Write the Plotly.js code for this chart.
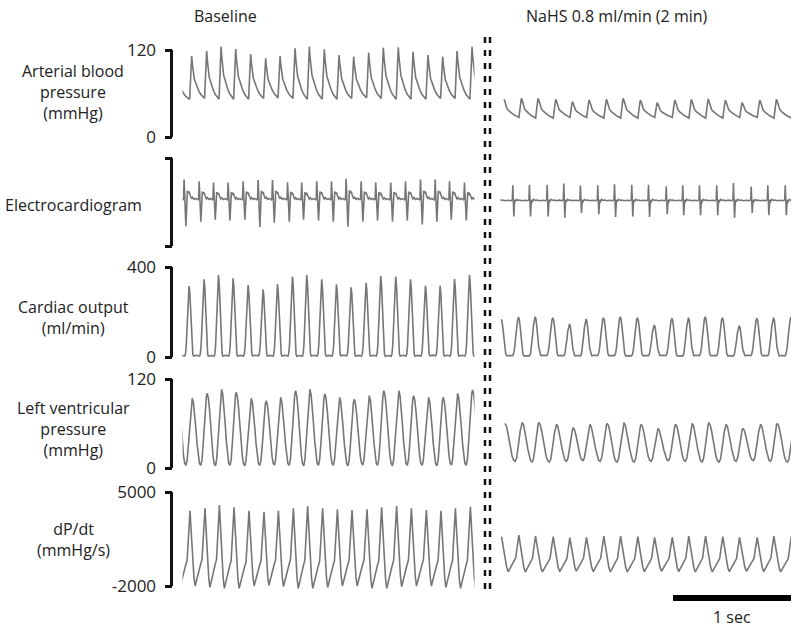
<!DOCTYPE html>
<html>
<head>
<meta charset="utf-8">
<script src="https://cdn.plot.ly/plotly-3.0.1.min.js"></script>
<style>html,body{margin:0;padding:0;background:#fff;}#chart{width:800px;height:632px;}</style>
</head>
<body>
<div id="chart"></div>
<script>
// ---------------- DATA ----------------
const conditions = ['Baseline', 'NaHS 0.8 ml/min (2 min)'];
const channelLabels = ['Arterial blood<br>pressure<br>(mmHg)', 'Electrocardiogram', 'Cardiac output<br>(ml/min)', 'Left ventricular<br>pressure<br>(mmHg)', 'dP/dt<br>(mmHg/s)'];
const tickValues = [[0, 120], [-1, 1], [0, 400], [0, 120], [-2000, 5000]];
const tickLabels = [['0', '120'], ['', ''], ['0', '400'], ['0', '120'], ['-2000', '5000']];
const scaleBarSeconds = 1;
const scaleBarLabel = '1 sec';

// beat times (s) – baseline (aortic pressure peaks), NaHS (ECG spikes)
const beatsBase = [-0.042, 0.082, 0.209, 0.331, 0.455, 0.582, 0.709, 0.831, 0.958, 1.079, 1.206, 1.331, 1.455, 1.582, 1.706, 1.833, 1.958, 2.085, 2.209, 2.331, 2.458];
const beatsNahs = [-0.034, 0.113, 0.254, 0.404, 0.545, 0.686, 0.833, 0.975, 1.121, 1.263, 1.413, 1.553, 1.695, 1.841, 1.983, 2.133, 2.274, 2.422];

// Arterial blood pressure (mmHg): systolic peaks / diastolic troughs
const abpBaseSys = [92, 111.7, 118.6, 124.6, 121.4, 114.5, 108.5, 111.7, 122.3, 124.6, 120.9, 113.1, 110.8, 116.3, 123.2, 123.7, 117.7, 113.1, 110.8, 118.6, 124.6];
const abpBaseDia = [52, 53, 52, 52, 52, 53, 54, 53, 52, 52, 52, 53, 54, 53, 52, 52, 52, 53, 53, 52, 52];
const abpNahsSys = [52, 53.4, 53.4, 52, 48.7, 51, 52, 53.4, 51, 47.3, 51, 52, 52.4, 51, 47.3, 51, 52, 52];
const abpNahsDia = [27, 26, 26, 27, 27, 26, 26, 26, 27, 27, 26, 26, 26, 27, 27, 26, 26, 26];

// ECG (arbitrary units): R (up) and S (down) deflections
const ecgBaseUp = [0.42, 0.46, 0.42, 0.39, 0.39, 0.42, 0.45, 0.45, 0.40, 0.39, 0.42, 0.42, 0.48, 0.42, 0.39, 0.39, 0.42, 0.46, 0.46, 0.42, 0.39];
const ecgBaseDown = [-0.5, -0.60, -0.50, -0.45, -0.47, -0.45, -0.62, -0.52, -0.50, -0.45, -0.47, -0.50, -0.61, -0.50, -0.47, -0.50, -0.47, -0.56, -0.50, -0.45, -0.47];
const ecgNahsUp = [0.36, 0.35, 0.36, 0.36, 0.39, 0.35, 0.35, 0.37, 0.36, 0.36, 0.33, 0.35, 0.35, 0.35, 0.40, 0.32, 0.35, 0.35];
const ecgNahsDown = [-0.35, -0.36, -0.36, -0.36, -0.39, -0.28, -0.31, -0.37, -0.36, -0.37, -0.31, -0.33, -0.33, -0.33, -0.39, -0.28, -0.33, -0.33];

// Cardiac output (ml/min): peaks / floor
const coBasePeak = [340, 315.6, 345, 364, 350, 320, 301, 323, 357, 364, 345, 323, 310, 330, 360, 357, 345, 317, 317, 347, 364];
const coBaseFloor = [4, 4, 3, 4, 4, 5, 4, 4, 3, 4, 4, 5, 4, 4, 3, 4, 4, 5, 4, 4, 4];
const coNahsPeak = [167.5, 176.4, 179, 174.7, 146.7, 168.9, 174.7, 179, 174.7, 142.2, 172, 174.7, 179, 174.7, 139, 172, 174.7, 176.4];
const coNahsFloor = [6, 5, 6, 6, 5, 6, 6, 5, 6, 6, 5, 6, 6, 5, 6, 6, 5, 6];

// Left ventricular pressure (mmHg)
const lvpBaseSys = [100, 94, 100.7, 106.1, 102.1, 94, 90.7, 95.3, 104.2, 106.1, 99.8, 95.3, 92.6, 97.5, 104.2, 104.2, 97.5, 95.3, 95.3, 100.7, 105.2];
const lvpBaseDia = [3.5, 3.5, 3, 3.5, 3, 3.5, 4, 3.5, 3, 3.5, 3.5, 3, 4, 3.5, 3, 3.5, 3.5, 3, 4, 3.5, 3];
const lvpNahsSys = [60.3, 61.6, 61.6, 58.9, 54.3, 58.9, 60.3, 61.1, 58.9, 53.5, 58.9, 60.3, 61.1, 58.9, 53.5, 58.9, 60.3, 60];
const lvpNahsDia = [9, 8, 8, 9, 10, 9, 8, 8, 9, 10, 9, 8, 8, 9, 10, 9, 8, 8];

// dP/dt (mmHg/s): max / min
const dpBaseMax = [3700, 3607, 3786, 4032, 3861, 3607, 3533, 3607, 3786, 3957, 3786, 3712, 3660, 3712, 3861, 3957, 3786, 3660, 3607, 3786, 3905];
const dpBaseMin = [-2000, -2000, -2100, -2180, -2180, -2000, -1950, -2050, -2180, -2180, -2100, -2000, -2000, -2180, -2180, -2050, -2000, -2000, -2100, -2180, -2100];
const dpNahsMax = [1671, 1798, 1723, 1671, 1597, 1626, 1723, 1723, 1671, 1626, 1626, 1723, 1723, 1671, 1626, 1626, 1723, 1671];
const dpNahsMin = [-930, -950, -950, -930, -900, -930, -950, -950, -930, -900, -930, -950, -950, -930, -900, -930, -950, -950];

// single-beat shapes: [phase within beat, normalised level]
const abpBaseShape = [[0, 1], [0.05, 0.8], [0.12, 0.55], [0.18, 0.45], [0.24, 0.4], [0.3, 0.33], [0.45, 0.2], [0.6, 0.1], [0.75, 0.04], [0.86, 0], [0.93, 0.5]];
const abpNahsShape = [[0, 1], [0.05, 0.9], [0.12, 0.62], [0.2, 0.45], [0.3, 0.35], [0.45, 0.22], [0.6, 0.13], [0.75, 0.06], [0.86, 0], [0.92, 0.45], [0.96, 0.85]];
const ecgBaseShape = [[-0.2, 0], [-0.16, 0.04], [-0.12, 1], [0, -1], [0.06, 0.3], [0.1, 0.45], [0.16, 0.33], [0.22, 0.4], [0.3, 0.2], [0.38, 0.05], [0.45, 0.12], [0.55, 0.02], [0.65, 0.07], [0.74, 0]];
const ecgNahsShape = [[-0.5, 0], [-0.3, 0.03], [-0.12, 0], [-0.06, 0.08], [-0.03, 1], [0.03, -1], [0.08, 0.05], [0.14, -0.05], [0.2, 0.08], [0.3, 0.02], [0.4, 0.04]];
const coBaseShape = [[0, 1], [0.05, 0.9], [0.1, 0.65], [0.15, 0.35], [0.2, 0.13], [0.25, 0.03], [0.3, 0], [0.5, 0.01], [0.7, 0], [0.75, 0.03], [0.8, 0.13], [0.85, 0.35], [0.9, 0.65], [0.95, 0.9]];
const coNahsShape = [[0, 1], [0.05, 0.93], [0.1, 0.75], [0.15, 0.48], [0.2, 0.22], [0.26, 0.06], [0.32, 0], [0.5, 0.01], [0.66, 0], [0.72, 0.06], [0.78, 0.22], [0.84, 0.5], [0.9, 0.78], [0.95, 0.94]];
const lvpBaseShape = [[0, 1], [0.08, 0.93], [0.16, 0.77], [0.24, 0.55], [0.32, 0.32], [0.4, 0.14], [0.48, 0.03], [0.57, 0], [0.65, 0.08], [0.73, 0.3], [0.8, 0.55], [0.87, 0.78], [0.94, 0.95]];
const lvpNahsShape = [[0, 1], [0.08, 0.93], [0.16, 0.77], [0.24, 0.56], [0.33, 0.33], [0.41, 0.14], [0.5, 0.03], [0.59, 0], [0.67, 0.08], [0.75, 0.3], [0.82, 0.56], [0.88, 0.78], [0.95, 0.95]];
const dpBaseShape = [[0, 1], [0.08, 0.72], [0.17, 0.4], [0.26, 0.12], [0.34, 0], [0.42, 0.07], [0.52, 0.15], [0.62, 0.22], [0.72, 0.29], [0.8, 0.34], [0.86, 0.52], [0.93, 0.78]];
const dpNahsShape = [[0, 1], [0.1, 0.7], [0.2, 0.4], [0.3, 0.12], [0.39, 0], [0.48, 0.08], [0.6, 0.2], [0.72, 0.3], [0.82, 0.38], [0.88, 0.6], [0.94, 0.85]];

// channel delays relative to the beat times (s)
const lagBase = {abp: 0, ecg: -0.049, co: -0.022, lvp: 0.005, dp: -0.014};
const lagNahs = {abp: 0.068, ecg: 0, co: 0.044, lvp: 0.076, dp: 0.047};

// ---------------- BUILD ----------------
function beatTrace(beats, lag, hi, lo, shape) {
  let trough = 0;
  shape.forEach((p, k) => { if (p[1] < shape[trough][1]) trough = k; });
  const x = [], y = [];
  for (let i = 0; i < beats.length; i++) {
    const T = i < beats.length - 1 ? beats[i + 1] - beats[i] : beats[i] - beats[i - 1];
    const hiNext = i < beats.length - 1 ? hi[i + 1] : hi[i];
    shape.forEach((p, k) => {
      const h = k <= trough ? hi[i] : hiNext;
      x.push(beats[i] + lag + p[0] * T);
      y.push(lo[i] + p[1] * (h - lo[i]));
    });
  }
  return {x, y};
}
function ecgTrace(beats, lag, up, down, base, shape) {
  const x = [], y = [];
  for (let i = 0; i < beats.length; i++) {
    const T = i < beats.length - 1 ? beats[i + 1] - beats[i] : beats[i] - beats[i - 1];
    shape.forEach(p => {
      x.push(beats[i] + lag + p[0] * T);
      y.push(base + (p[1] >= 0 ? p[1] * up[i] : -p[1] * down[i]));
    });
  }
  return {x, y};
}

const W = 800, H = 632;
// panel geometry: [value at top tick, pixel], [value at bottom tick, pixel], axis range
const panelGeom = [
  {top: [120, 50], bot: [0, 137], range: [-20, 140]},
  {top: [1, 158], bot: [-1, 246], range: [-1.3, 1.3]},
  {top: [400, 267], bot: [0, 357], range: [-40, 440]},
  {top: [120, 379], bot: [0, 468], range: [-15, 135]},
  {top: [5000, 492], bot: [-2000, 586], range: [-2600, 5600]}
];
function toPx(g, v) { return g.bot[1] - (v - g.bot[0]) * (g.bot[1] - g.top[1]) / (g.top[0] - g.bot[0]); }

const lineStyle = {color: '#767676', width: 1.6};
const series = [
  [beatTrace(beatsBase, lagBase.abp, abpBaseSys, abpBaseDia, abpBaseShape), beatTrace(beatsNahs, lagNahs.abp, abpNahsSys, abpNahsDia, abpNahsShape)],
  [ecgTrace(beatsBase, lagBase.ecg, ecgBaseUp, ecgBaseDown, 0.05, ecgBaseShape), ecgTrace(beatsNahs, lagNahs.ecg, ecgNahsUp, ecgNahsDown, 0.03, ecgNahsShape)],
  [beatTrace(beatsBase, lagBase.co, coBasePeak, coBaseFloor, coBaseShape), beatTrace(beatsNahs, lagNahs.co, coNahsPeak, coNahsFloor, coNahsShape)],
  [beatTrace(beatsBase, lagBase.lvp, lvpBaseSys, lvpBaseDia, lvpBaseShape), beatTrace(beatsNahs, lagNahs.lvp, lvpNahsSys, lvpNahsDia, lvpNahsShape)],
  [beatTrace(beatsBase, lagBase.dp, dpBaseMax, dpBaseMin, dpBaseShape), beatTrace(beatsNahs, lagNahs.dp, dpNahsMax, dpNahsMin, dpNahsShape)]
];

const FONT = 'Open Sans, sans-serif';
const TXT = '#222222';
const traces = [];
const layout = {
  width: W, height: H, margin: {l: 0, r: 0, t: 0, b: 0},
  paper_bgcolor: '#ffffff', plot_bgcolor: 'rgba(0,0,0,0)', showlegend: false,
  font: {family: FONT, color: TXT},
  xaxis: {domain: [182.5 / W, 474.5 / W], range: [0.5 / 118, 292.5 / 118], visible: false, fixedrange: true},
  xaxis2: {domain: [500.5 / W, 791 / W], range: [0.5 / 118, 291 / 118], visible: false, fixedrange: true, anchor: 'y'},
  shapes: [], annotations: []
};
const axisX = 171.5 / W;
const labelCentres = [92, 205, 317, 429, 539];
panelGeom.forEach((g, k) => {
  const yn = k === 0 ? 'y' : 'y' + (k + 1);
  const an = k === 0 ? 'yaxis' : 'yaxis' + (k + 1);
  layout[an] = {
    domain: [1 - toPx(g, g.range[0]) / H, 1 - toPx(g, g.range[1]) / H],
    range: g.range, anchor: 'free', position: axisX,
    showgrid: false, zeroline: false, showline: false,
    ticks: 'outside', ticklen: 7, tickwidth: 3, tickcolor: '#111',
    tickmode: 'array', tickvals: tickValues[k], ticktext: tickLabels[k],
    tickfont: {family: FONT, size: 17, color: TXT}, ticklabelstandoff: 5, fixedrange: true
  };
  layout.shapes.push({type: 'line', xref: 'paper', yref: yn, x0: axisX, x1: axisX, y0: tickValues[k][0], y1: tickValues[k][1], line: {color: '#111', width: 3}});
  series[k].forEach((s, c) => {
    traces.push({type: 'scatter', mode: 'lines', x: s.x, y: s.y, xaxis: c === 0 ? 'x' : 'x2', yaxis: yn, line: lineStyle, hoverinfo: 'skip'});
  });
  layout.annotations.push({text: channelLabels[k], xref: 'paper', yref: 'paper', x: 73 / W, y: 1 - labelCentres[k] / H, xanchor: 'center', yanchor: 'middle', align: 'center', showarrow: false, font: {family: FONT, size: 16, color: TXT}});
});
// condition titles
layout.annotations.push({text: conditions[0], xref: 'paper', yref: 'paper', x: 225.5 / W, y: 1 - 16 / H, xanchor: 'center', yanchor: 'middle', showarrow: false, font: {family: FONT, size: 16, color: TXT}});
layout.annotations.push({text: conditions[1], xref: 'paper', yref: 'paper', x: 617 / W, y: 1 - 16 / H, xanchor: 'center', yanchor: 'middle', showarrow: false, font: {family: FONT, size: 16, color: TXT}});
// double dashed separator
[485, 490].forEach(px => layout.shapes.push({type: 'line', xref: 'paper', yref: 'paper', x0: px / W, x1: px / W, y0: 1 - 37 / H, y1: 1 - 592 / H, line: {color: '#111', width: 2.5, dash: '6px,7px'}}));
// time scale bar on the NaHS time axis
const xEnd = 291 / 118;
layout.shapes.push({type: 'line', xref: 'x2', yref: 'paper', x0: xEnd - scaleBarSeconds, x1: xEnd, y0: 1 - 598 / H, y1: 1 - 598 / H, line: {color: '#000', width: 6}});
layout.annotations.push({text: scaleBarLabel, xref: 'x2', yref: 'paper', x: xEnd - scaleBarSeconds / 2, y: 1 - 617 / H, xanchor: 'center', yanchor: 'middle', showarrow: false, font: {family: FONT, size: 16, color: TXT}});

Plotly.newPlot('chart', traces, layout, {staticPlot: true, displayModeBar: false});
</script>
</body>
</html>
